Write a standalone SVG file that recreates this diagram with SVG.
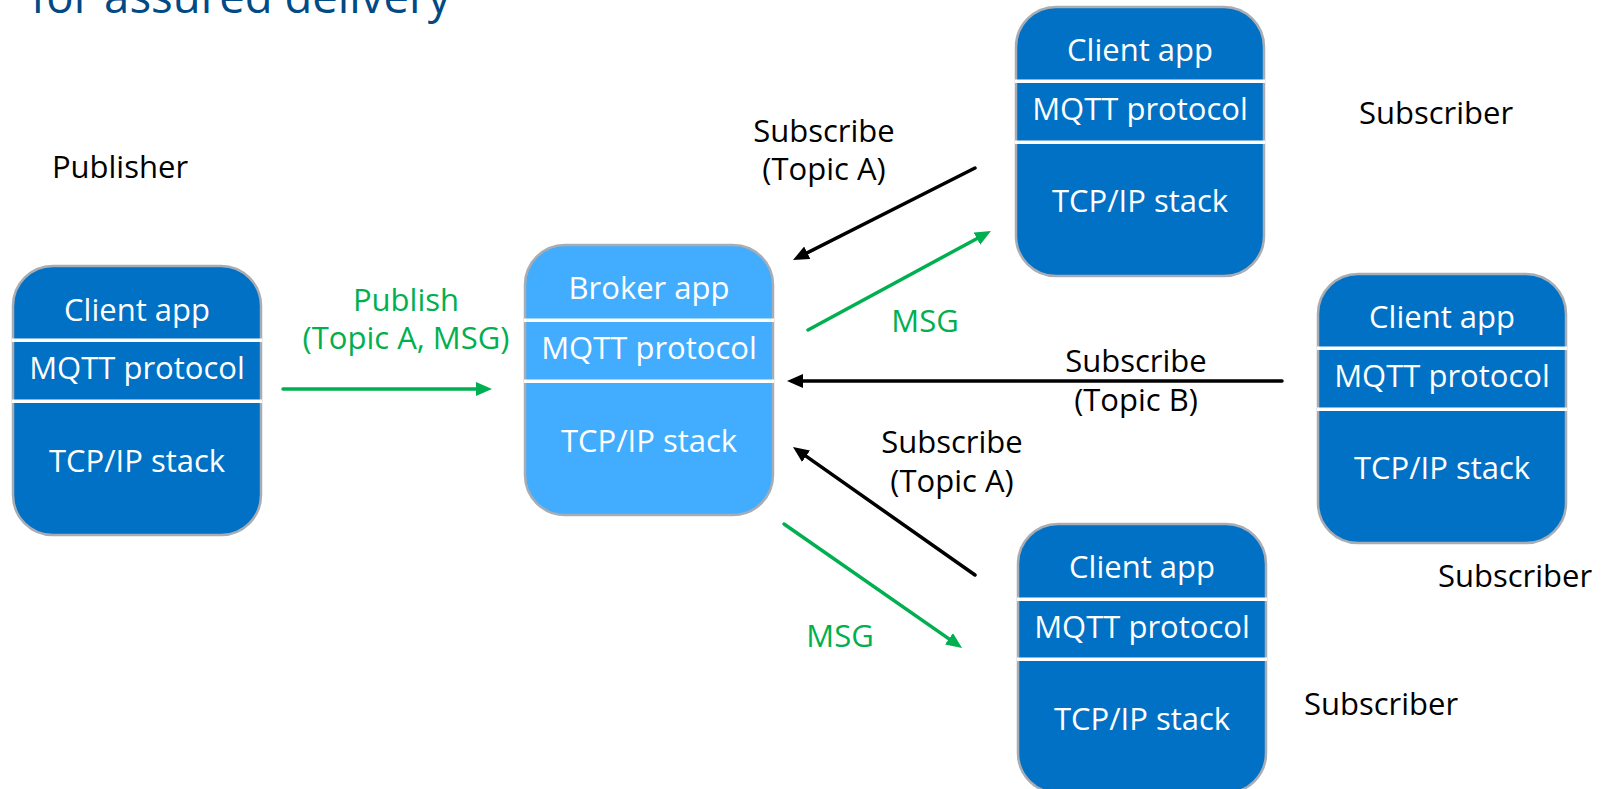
<svg xmlns="http://www.w3.org/2000/svg" width="1608" height="789" viewBox="0 0 1608 789">
<style>
text{font-family:"Open Sans","Noto Sans","Liberation Sans",sans-serif;font-size:31px;text-anchor:middle}
.box{stroke:#a8adb3;stroke-width:2.5}
.client{fill:#0071c5}
.broker{fill:#42adff}
.div{fill:#ffffff}
.wt{fill:#ffffff}
.bk{fill:#000000}
.gr{fill:#00b050}
.lk{stroke:#000000;stroke-width:3.5;fill:none;stroke-linecap:round}
.lg{stroke:#00b050;stroke-width:3.5;fill:none;stroke-linecap:round}
</style>
<defs>
<marker id="ab" markerUnits="userSpaceOnUse" markerWidth="16" markerHeight="14" refX="4" refY="7" orient="auto"><path d="M0,0 L16,7 L0,14 z" fill="#000000"/></marker>
<marker id="ag" markerUnits="userSpaceOnUse" markerWidth="16" markerHeight="14" refX="4" refY="7" orient="auto"><path d="M0,0 L16,7 L0,14 z" fill="#00b050"/></marker>
</defs>
<rect width="1608" height="789" fill="#ffffff"/>
<text x="31" y="13" style="font-size:45.5px;text-anchor:start;fill:#004a86">for assured delivery</text>

<g id="publisher">
<rect class="box client" x="13" y="266" width="248" height="269" rx="40"/>
<rect class="div" x="12" y="338.5" width="250" height="3.5"/>
<rect class="div" x="12" y="399.5" width="250" height="3.5"/>
<text class="wt" x="137" y="321">Client app</text>
<text class="wt" x="137" y="379">MQTT protocol</text>
<text class="wt" x="137" y="472">TCP/IP stack</text>
</g>

<g id="broker">
<rect class="box broker" x="525" y="245" width="248" height="270" rx="40"/>
<rect class="div" x="524" y="318.5" width="250" height="3.5"/>
<rect class="div" x="524" y="379.5" width="250" height="3.5"/>
<text class="wt" x="649" y="299">Broker app</text>
<text class="wt" x="649" y="359">MQTT protocol</text>
<text class="wt" x="649" y="452">TCP/IP stack</text>
</g>

<g id="subscriber-top">
<rect class="box client" x="1016" y="7" width="248" height="269" rx="40"/>
<rect class="div" x="1015" y="79.5" width="250" height="3.5"/>
<rect class="div" x="1015" y="140.5" width="250" height="3.5"/>
<text class="wt" x="1140" y="61">Client app</text>
<text class="wt" x="1140" y="120">MQTT protocol</text>
<text class="wt" x="1140" y="212">TCP/IP stack</text>
</g>

<g id="subscriber-right">
<rect class="box client" x="1318" y="274" width="248" height="269" rx="40"/>
<rect class="div" x="1317" y="346.5" width="250" height="3.5"/>
<rect class="div" x="1317" y="407.5" width="250" height="3.5"/>
<text class="wt" x="1442" y="328">Client app</text>
<text class="wt" x="1442" y="387">MQTT protocol</text>
<text class="wt" x="1442" y="479">TCP/IP stack</text>
</g>

<g id="subscriber-bottom">
<rect class="box client" x="1018" y="524" width="248" height="269" rx="40"/>
<rect class="div" x="1017" y="597.5" width="250" height="3.5"/>
<rect class="div" x="1017" y="657.5" width="250" height="3.5"/>
<text class="wt" x="1142" y="578">Client app</text>
<text class="wt" x="1142" y="638">MQTT protocol</text>
<text class="wt" x="1142" y="730">TCP/IP stack</text>
</g>

<g id="connectors">
<line class="lg" x1="283" y1="389" x2="480" y2="389" marker-end="url(#ag)"/>
<line class="lk" x1="975" y1="168" x2="803.7" y2="254.6" marker-end="url(#ab)"/>
<line class="lg" x1="808" y1="330" x2="980.4" y2="236.7" marker-end="url(#ag)"/>
<line class="lk" x1="1282" y1="381" x2="799" y2="381" marker-end="url(#ab)"/>
<line class="lk" x1="975" y1="575" x2="802.8" y2="453.9" marker-end="url(#ab)"/>
<line class="lg" x1="784" y1="524" x2="952.2" y2="641.1" marker-end="url(#ag)"/>
</g>

<g id="labels">
<text class="gr" x="406" y="311">Publish</text>
<text class="gr" x="406" y="349">(Topic A, MSG)</text>
<text class="bk" x="824" y="142">Subscribe</text>
<text class="bk" x="824" y="180">(Topic A)</text>
<text class="gr" x="925" y="332">MSG</text>
<text class="bk" x="1136" y="372">Subscribe</text>
<text class="bk" x="1136" y="411">(Topic B)</text>
<text class="bk" x="952" y="453">Subscribe</text>
<text class="bk" x="952" y="492">(Topic A)</text>
<text class="gr" x="840" y="647">MSG</text>
<text class="bk" x="120" y="178">Publisher</text>
<text class="bk" x="1436" y="124">Subscriber</text>
<text class="bk" x="1515" y="587">Subscriber</text>
<text class="bk" x="1381" y="715">Subscriber</text>
</g>
</svg>
